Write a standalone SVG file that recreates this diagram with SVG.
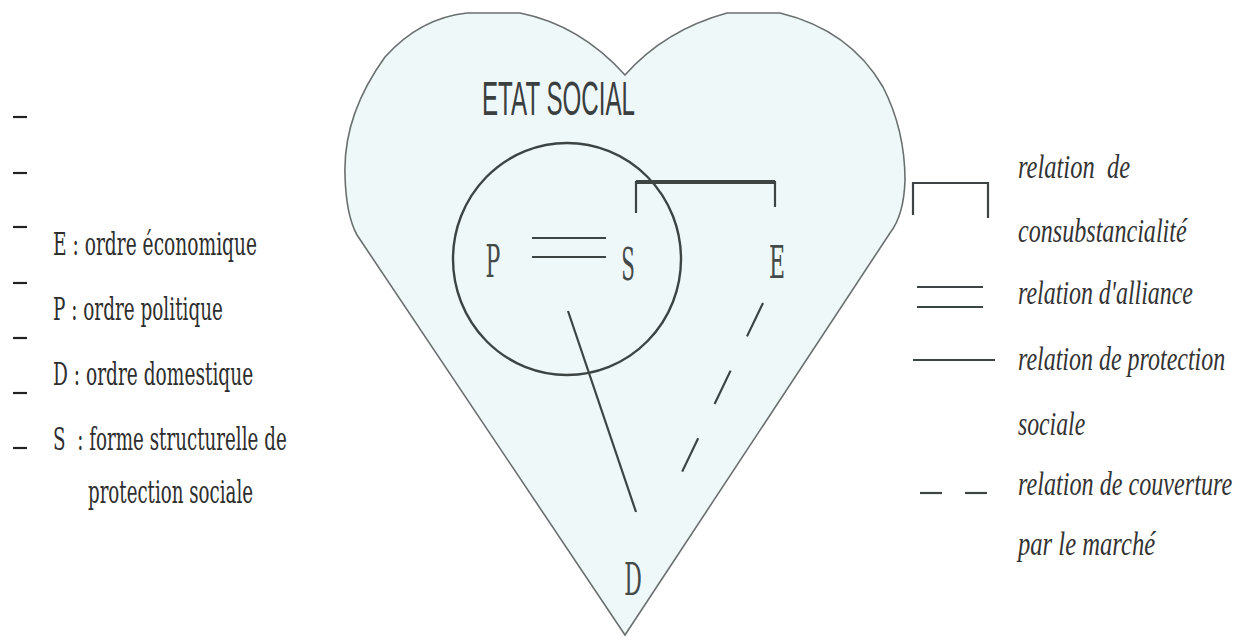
<svg xmlns="http://www.w3.org/2000/svg" width="1244" height="637" viewBox="0 0 1244 637">
<style>
.ln{stroke:#3c4444;stroke-width:2.2;fill:none;stroke-linecap:butt}
.node{font-family:"DejaVu Serif","Liberation Serif",serif;font-size:44px;fill:#444a4a}
.leg{font-family:"DejaVu Serif","Liberation Serif",serif;font-size:31px;fill:#2e2e2e;white-space:pre}
.legi{font-family:"Liberation Serif","DejaVu Serif",serif;font-style:italic;font-size:34px;fill:#333;white-space:pre}
.dash{stroke:#222;stroke-width:2.2}
</style>
<rect width="1244" height="637" fill="#ffffff"/>
<g id="heart">
<path d="M625,635 L357,235 Q346,215 345,175 Q343,115 385,57 Q420,18 467,13 L520,13 Q580,25 625,75 Q665,30 727,13 L780,13 Q850,30 883,87 Q905,130 905,180 Q904,215 890,233 Z" fill="#eff8f8" stroke="#6a6f6f" stroke-width="1.6"/>
<text x="482" y="115" font-family="'Liberation Sans','DejaVu Sans',sans-serif" font-size="48" fill="#3a3f3f" textLength="153" lengthAdjust="spacingAndGlyphs">ETAT SOCIAL</text>
</g>
<g id="circle">
<ellipse cx="567" cy="259" rx="114" ry="116" fill="none" stroke="#3c4444" stroke-width="2.4"/>
</g>
<g id="connectors">
<path class="ln" d="M636,213 L636,182 L775,182 L775,207" stroke-width="2"/>
<line x1="636" y1="182" x2="775" y2="182" stroke="#3c4444" stroke-width="4"/>
<line class="ln" x1="532" y1="238" x2="606" y2="238" stroke-width="3"/>
<line class="ln" x1="532" y1="257" x2="606" y2="257" stroke-width="3"/>
<line class="ln" x1="568" y1="311" x2="636" y2="512"/>
<line class="ln" x1="763" y1="303" x2="682" y2="472" stroke-dasharray="37 38"/>
</g>
<g id="node-P"><text class="node" transform="translate(493,277) scale(0.5,1)" text-anchor="middle">P</text></g>
<g id="node-S"><text class="node" transform="translate(628,280) scale(0.45,1)" text-anchor="middle">S</text></g>
<g id="node-E"><text class="node" transform="translate(777,278) scale(0.5,1)" text-anchor="middle">E</text></g>
<g id="node-D"><text class="node" transform="translate(633,595) scale(0.5,1)" text-anchor="middle">D</text></g>
<g id="legend-left">
<line class="dash" x1="13" y1="117" x2="27" y2="117"/>
<line class="dash" x1="13" y1="173" x2="27" y2="173"/>
<line class="dash" x1="13" y1="227" x2="27" y2="227"/>
<line class="dash" x1="13" y1="283" x2="27" y2="283"/>
<line class="dash" x1="13" y1="338" x2="27" y2="338"/>
<line class="dash" x1="13" y1="393" x2="27" y2="393"/>
<line class="dash" x1="13" y1="448" x2="27" y2="448"/>
<text class="leg" transform="translate(53,255) scale(0.55,1)" textLength="371" lengthAdjust="spacingAndGlyphs">E : ordre économique</text>
<text class="leg" transform="translate(53,320) scale(0.55,1)" textLength="309" lengthAdjust="spacingAndGlyphs">P : ordre politique</text>
<text class="leg" transform="translate(53,385) scale(0.55,1)" textLength="364" lengthAdjust="spacingAndGlyphs">D : ordre domestique</text>
<text class="leg" transform="translate(53,450) scale(0.55,1)" textLength="425" lengthAdjust="spacingAndGlyphs">S  : forme structurelle de</text>
<text class="leg" transform="translate(88,503) scale(0.55,1)" textLength="300" lengthAdjust="spacingAndGlyphs">protection sociale</text>
</g>
<g id="legend-right">
<path class="ln" d="M913,215 L913,183 L988,183 L988,218" stroke-width="2.4"/>
<line class="ln" x1="917" y1="287" x2="983" y2="287" stroke-width="3"/>
<line class="ln" x1="917" y1="307" x2="983" y2="307" stroke-width="3"/>
<line class="ln" x1="913" y1="360" x2="995" y2="360" stroke-width="2.4"/>
<line class="ln" x1="920" y1="493" x2="942" y2="493" stroke-width="3"/>
<line class="ln" x1="965" y1="493" x2="987" y2="493" stroke-width="3"/>
<text class="legi" transform="translate(1018,178) scale(0.7,1)" textLength="160" lengthAdjust="spacingAndGlyphs">relation  de</text>
<text class="legi" transform="translate(1018,242) scale(0.7,1)" textLength="241" lengthAdjust="spacingAndGlyphs">consubstancialité</text>
<text class="legi" transform="translate(1018,304) scale(0.7,1)" textLength="250" lengthAdjust="spacingAndGlyphs">relation d'alliance</text>
<text class="legi" transform="translate(1018,370) scale(0.7,1)" textLength="296" lengthAdjust="spacingAndGlyphs">relation de protection</text>
<text class="legi" transform="translate(1018,435) scale(0.7,1)" textLength="96" lengthAdjust="spacingAndGlyphs">sociale</text>
<text class="legi" transform="translate(1018,495) scale(0.7,1)" textLength="306" lengthAdjust="spacingAndGlyphs">relation de couverture</text>
<text class="legi" transform="translate(1018,555) scale(0.7,1)" textLength="196" lengthAdjust="spacingAndGlyphs">par le marché</text>
</g>
</svg>
